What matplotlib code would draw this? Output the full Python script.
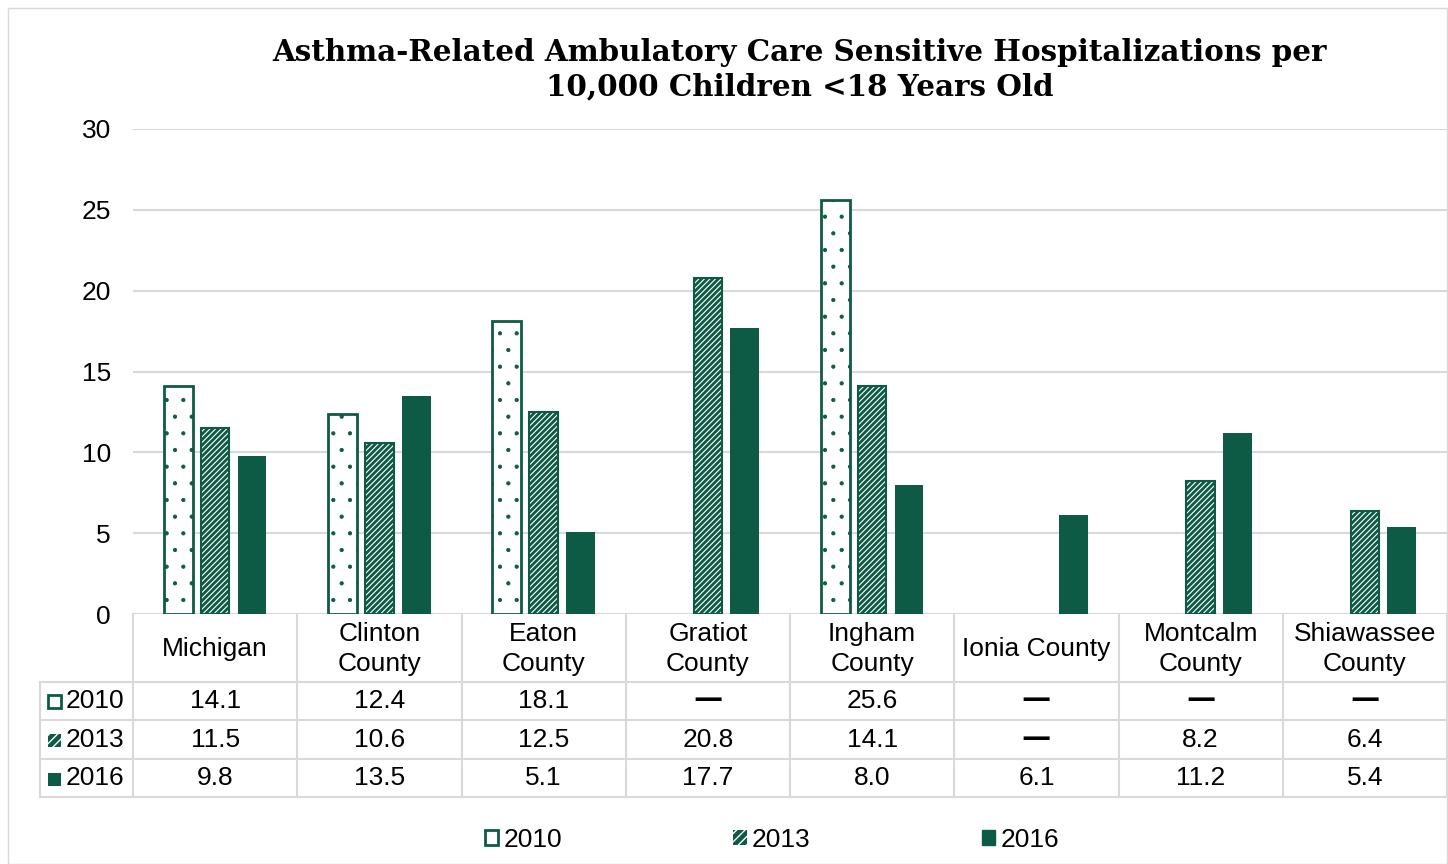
import matplotlib
matplotlib.use("Agg")
import matplotlib.pyplot as plt
from matplotlib.patches import Patch, Rectangle
import numpy as np

plt.rcParams['font.family'] = ['Liberation Sans', 'DejaVu Sans']

# data
categories = ["Michigan", "Clinton\nCounty", "Eaton\nCounty", "Gratiot\nCounty",
              "Ingham\nCounty", "Ionia County", "Montcalm\nCounty", "Shiawassee\nCounty"]
years = ["2010", "2013", "2016"]
v2010 = [14.1, 12.4, 18.1, None, 25.6, None, None, None]
v2013 = [11.5, 10.6, 12.5, 20.8, 14.1, None, 8.2, 6.4]
v2016 = [9.8, 13.5, 5.1, 17.7, 8.0, 6.1, 11.2, 5.4]
series = [v2010, v2013, v2016]

GREEN = "#0E5B45"
GRID = "#D9D9D9"
FS = 19

W, H = 1448, 864
fig = plt.figure(figsize=(W / 100, H / 100), dpi=100)
fig.add_artist(Rectangle((8 / W, 0), (W - 9) / W, 1 - 8 / H, transform=fig.transFigure,
                         fill=False, edgecolor=GRID, linewidth=1))

ax = fig.add_axes([133 / W, (H - 614) / H, (1447 - 133) / W, 485 / H])
x = np.arange(len(categories))
offsets = [-0.225, 0.0, 0.225]
bw = 0.175


def vals(s):
    return [np.nan if v is None else v for v in s]


# 2010: white with green dots
with plt.rc_context({'hatch.linewidth': 0.6}):
    ax.bar(x + offsets[0], vals(v2010), bw, facecolor="white", edgecolor=GREEN,
           hatch=".", linewidth=0, zorder=3)
ax.bar(x + offsets[0], vals(v2010), bw, fill=False, edgecolor=GREEN, linewidth=2, zorder=4)
# 2013: green with white stripes
with plt.rc_context({'hatch.linewidth': 0.8}):
    ax.bar(x + offsets[1], vals(v2013), bw, facecolor=GREEN, edgecolor="white",
           hatch="//////", linewidth=0, zorder=3)
ax.bar(x + offsets[1], vals(v2013), bw, fill=False, edgecolor=GREEN, linewidth=1.5, zorder=4)
# 2016: solid
ax.bar(x + offsets[2], vals(v2016), bw, color=GREEN, zorder=3)

ax.set_xlim(-0.5, len(categories) - 0.5)
ax.set_ylim(0, 30)
ax.set_yticks(range(0, 31, 5))
ax.yaxis.grid(True, color=GRID, linewidth=1.5)
ax.set_axisbelow(True)
for s in ax.spines.values():
    s.set_visible(False)
ax.tick_params(axis='y', length=0, labelsize=FS, pad=16)
ax.set_xticks([])

# data table below the axes
tr = ax.get_xaxis_transform()
hdr_bot = -68 / 485
row_bots = [-106 / 485, -145 / 485, -183 / 485]
row_mid = [-87 / 485, -126 / 485, -164 / 485]
left_x = -0.5 - 93 / 164.25
lk = dict(color=GRID, linewidth=1.5, transform=tr, clip_on=False)
for k in range(len(categories) + 1):
    ax.plot([k - 0.5, k - 0.5], [0, row_bots[-1]], **lk)
ax.plot([left_x, left_x], [hdr_bot, row_bots[-1]], **lk)
for yy in [hdr_bot] + row_bots:
    ax.plot([left_x, len(categories) - 0.5], [yy, yy], **lk)

for i, c in enumerate(categories):
    ax.text(i, -35 / 485, c, transform=tr, ha='center', va='center',
            fontsize=FS, linespacing=1.35)
    for r, s in enumerate(series):
        v = s[i]
        if v is None:
            ax.text(i, row_mid[r] + 0.004, "\u2014", transform=tr, ha='center', va='center',
                    fontsize=21, fontweight='bold', family='DejaVu Sans')
        else:
            ax.text(i, row_mid[r], f"{v:.1f}", transform=tr, ha='center', va='center',
                    fontsize=FS)

# row labels with small swatches
sw = [dict(facecolor="white", edgecolor=GREEN, hatch=None, linewidth=2),
      dict(facecolor=GREEN, edgecolor="white", hatch="////", linewidth=0),
      dict(facecolor=GREEN, edgecolor=GREEN, hatch=None, linewidth=0)]
for r, yr in enumerate(years):
    ax.text(-0.5 - 67 / 164.25, row_mid[r], yr, transform=tr, ha='left', va='center',
            fontsize=FS)
    yc = 1 - (701 + 39 * r) / H
    with plt.rc_context({'hatch.linewidth': 1.0}):
        fig.add_artist(Rectangle((48 / W, yc - 6.5 / H), 13 / W, 13 / H,
                                 transform=fig.transFigure, **sw[r]))

# legend
with plt.rc_context({'hatch.linewidth': 1.0}):
    handles = [Patch(facecolor="white", edgecolor=GREEN, linewidth=2),
               Patch(facecolor=GREEN, edgecolor="white", hatch="////", linewidth=0),
               Patch(facecolor=GREEN, edgecolor=GREEN)]
fig.legend(handles, years, loc='center', bbox_to_anchor=(772 / W, 1 - 840 / H),
           ncol=3, frameon=False, fontsize=FS, handlelength=0.5, handleheight=0.5,
           handletextpad=0.2, columnspacing=6.5)

fig.text(800 / W, 1 - 70 / H,
         "Asthma-Related Ambulatory Care Sensitive Hospitalizations per\n"
         "10,000 Children <18 Years Old",
         ha='center', va='center', fontsize=21.2, fontweight='bold',
         family='DejaVu Serif', linespacing=1.25)

fig.savefig("out.png", dpi=100, facecolor="white")
